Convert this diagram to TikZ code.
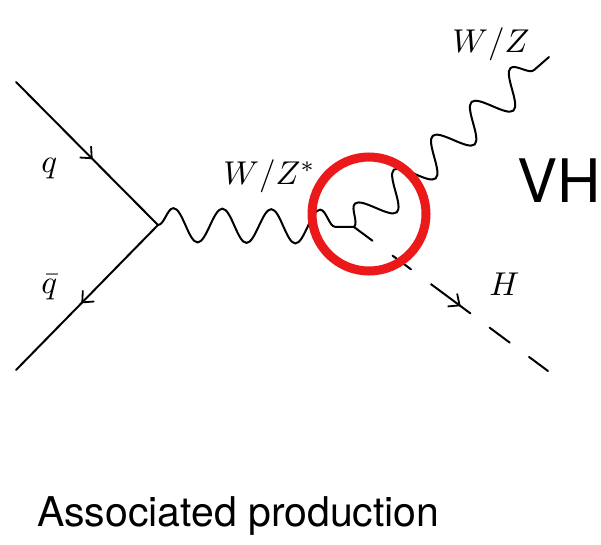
\documentclass[tikz,border=0pt]{standalone}
\usepackage{fontspec}
\setsansfont{TeX Gyre Heros}
\usetikzlibrary{decorations.pathmorphing,decorations.markings,arrows.meta}
\definecolor{ringred}{RGB}{235,25,25}
\begin{document}
\begin{tikzpicture}[x=1pt,y=-1pt,
  line width=2pt, line cap=round,
  fermarrow/.style={postaction={decorate},decoration={markings,mark=at position #1 with {\arrow{Straight Barb[length=9pt,width=16pt,line width=1.8pt]}}}},
  bosonwave/.style={decorate,decoration={snake,segment length=#1,amplitude=17pt}},
  lbl/.style={anchor=base west,inner sep=0pt,scale=3.3},
  bigsans/.style={anchor=base west,inner sep=0pt,font=\sffamily\fontsize{#1}{#1}\selectfont},
]
\fill[white] (0,0) rectangle (601,544);
\useasboundingbox (0,0) rectangle (601,544);

\coordinate (qin) at (16,82);
\coordinate (qbout) at (16,370);
\coordinate (v1) at (158,225);
\coordinate (v2) at (354,227);
\coordinate (wout) at (549,57);
\coordinate (hout) at (548,371);

% fermions
\draw[fermarrow=0.54] (qin) -- (v1);
\draw[fermarrow=0.54] (v1) -- (qbout);

% bosons
\draw[bosonwave=48.9pt] (v1) -- (v2);
\draw[bosonwave=51.6pt] (v2) -- (wout);

% Higgs
\path (v2) -- (hout) coordinate[pos=0.4] (m1) coordinate[pos=0.6] (m2);
\draw[dash pattern=on 23pt off 25pt] (v2) -- (m1);
\draw[fermarrow=0.75] (m1) -- (m2);
\draw[dash pattern=on 25pt off 24pt, dash phase=25pt] (m2) -- (hout);

% highlight ring
\node[draw=ringred, circle, line width=9pt, minimum size=114pt, inner sep=0pt] (ring) at (369,214) {};

% labels
\node[lbl] (lq) at (38,172) {$q$};
\node[lbl] (lqb) at (38,293) {$\bar{q}$};
\node[lbl] (lwzs) at (220,184) {$W/Z^{*}$};
\node[lbl] (lwz) at (449,52) {$W/Z$};
\node[lbl] (lh) at (486,295) {$H$};
\node[bigsans=60] (lvh) at (516,202) {VH};
\node[bigsans=41] (lap) at (36,526) {Associated production};
\end{tikzpicture}
\end{document}
